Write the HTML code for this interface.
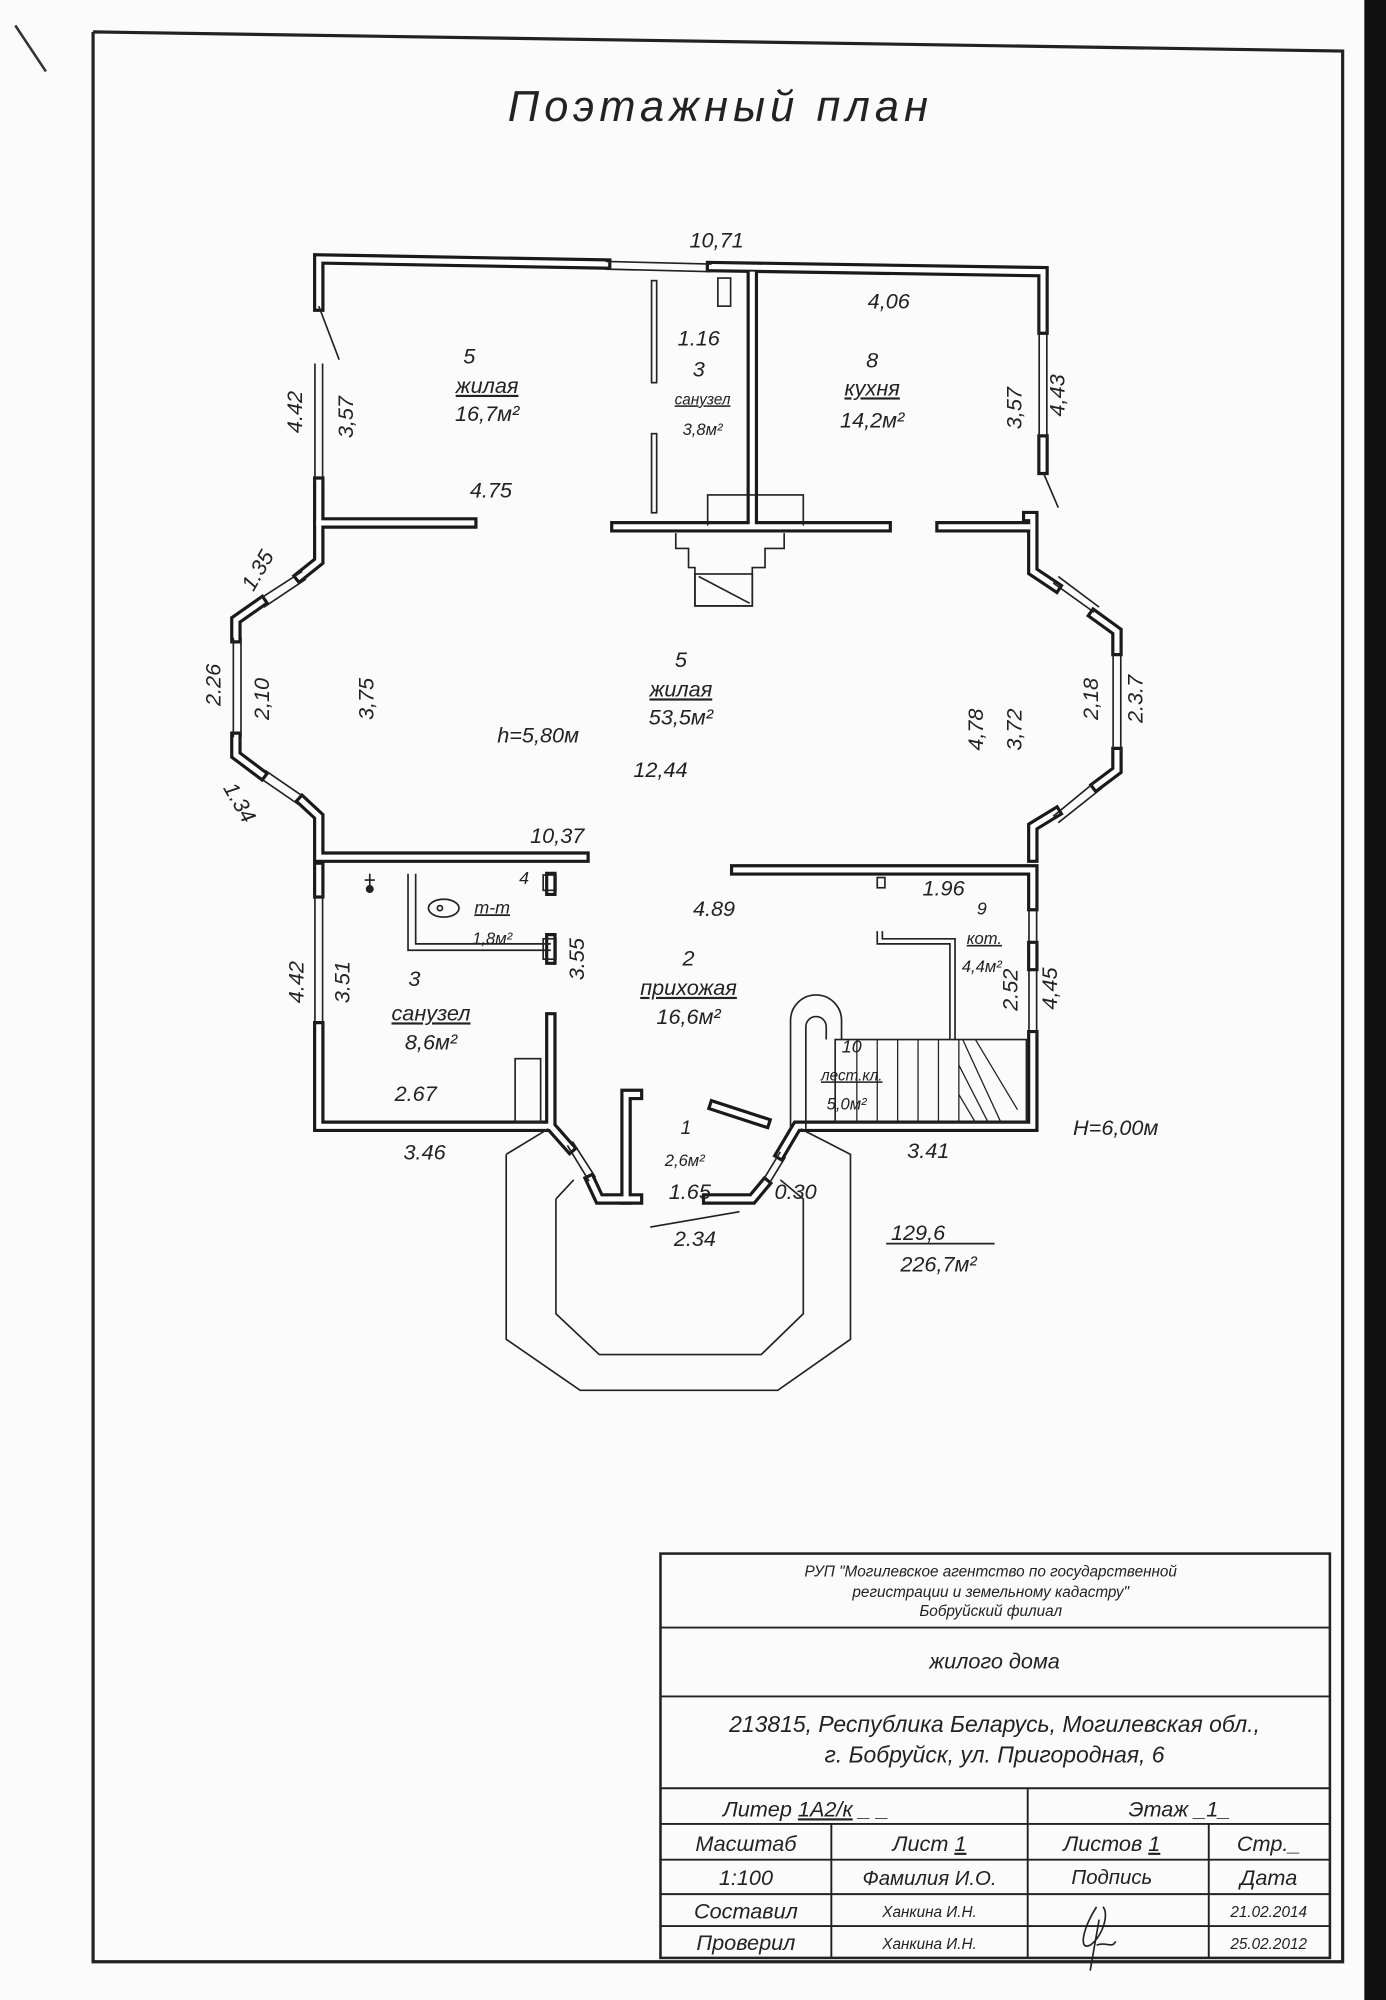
<!DOCTYPE html>
<html><head><meta charset="utf-8"><style>
html,body{margin:0;padding:0;background:#fff;}
svg{display:block;}
text{font-family:"Liberation Sans",sans-serif;font-style:italic;fill:#222;}
</style></head><body>
<svg width="1386" height="2000" viewBox="0 0 1087 1568" preserveAspectRatio="none" xmlns="http://www.w3.org/2000/svg">
<rect x="0" y="0" width="1087" height="1568" fill="#fbfbfb"/>
<rect x="1070" y="0" width="17" height="1568" fill="#111"/>
<line x1="12" y1="20" x2="36" y2="56" stroke="#333" stroke-width="2"/>
<polyline points="73,25 1053,40 1053,1538 73,1538 73,25" fill="none" stroke="#222" stroke-width="2.5"/>
<text x="565" y="95" font-size="34" text-anchor="middle" letter-spacing="4">Поэтажный  план</text>
<defs>
<g id="walls" fill="none">
<polyline points="250,240 250,203 475,207"/>
<polyline points="558,209 818,213 818,258"/>
<polyline points="250,378 250,410 370,410"/>
<polyline points="250,410 250,440 235,452"/>
<polyline points="205,472 185,486 185,500"/>
<polyline points="185,578 185,592 205,607"/>
<polyline points="237,628 250,640 250,672 458,672"/>
<polyline points="250,680 250,700"/>
<polyline points="250,805 250,883 432,883 447,900"/>
<polyline points="463,925 470,940 500,940"/>
<polyline points="555,940 590,940 600,928"/>
<polyline points="612,905 625,883 810,883 810,812"/>
<polyline points="810,757 810,742"/>
<polyline points="810,710 810,682 577,682"/>
<polyline points="810,672 810,648 828,637"/>
<polyline points="860,616 876,604 876,590"/>
<polyline points="876,510 876,495 858,482"/>
<polyline points="828,460 810,448 810,405 806,405"/>
<polyline points="818,368 818,345"/>
<line x1="483" y1="413" x2="695" y2="413"/>
<line x1="738" y1="413" x2="806" y2="413"/>
<line x1="590" y1="215" x2="590" y2="410"/>
<polyline points="432,688 432,698"/>
<polyline points="432,736 432,752"/>
<polyline points="432,798 432,880"/>
<polyline points="491,940 491,858 500,858"/>
<polyline points="560,867 600,880"/>
</g>
</defs>
<use href="#walls" stroke="#1a1a1a" stroke-width="9" stroke-linecap="square"/>
<use href="#walls" stroke="#fff" stroke-width="4" stroke-linecap="square"/>
<g stroke="#222" stroke-width="1.3" fill="none">
<path d="M475,205 L558,207 M475,211 L558,213"/>
<path d="M247,285 L247,378 M253,285 L253,378"/>
<path d="M183,500 L183,578 M189,500 L189,578"/>
<path d="M203,470 L237,448 M207,476 L240,454"/>
<path d="M204,610 L236,632 M208,604 L240,626"/>
<path d="M873,510 L873,590 M879,510 L879,590"/>
<path d="M826,457 L858,480 M830,452 L862,476"/>
<path d="M826,640 L860,612 M830,645 L864,618"/>
<path d="M815,258 L815,345 M821,258 L821,345"/>
<path d="M247,700 L247,805 M253,700 L253,805"/>
<path d="M807,712 L807,742 M813,712 L813,742"/>
<path d="M807,757 L807,812 M813,757 L813,812"/>
<path d="M445,898 L462,926 M449,895 L467,923"/>
<path d="M598,926 L612,903 M602,930 L616,907"/>
<line x1="250" y1="240" x2="266" y2="282"/>
<line x1="818" y1="370" x2="830" y2="398"/>
<rect x="511" y="220" width="4" height="80"/>
<rect x="511" y="340" width="4" height="62"/>
<rect x="563" y="218" width="10" height="22"/>
<path d="M555,412 V388 H590 M590,388 H630 V412"/>
<path d="M530,418 V430 H540 V445 H545 V475 H590 V445 H600 V430 H615 V418"/>
<rect x="545" y="450" width="45" height="25"/>
<line x1="548" y1="452" x2="588" y2="473"/>
<rect x="426" y="686" width="10" height="12"/>
<rect x="426" y="736" width="10" height="16"/>
<rect x="404" y="830" width="20" height="50"/>
<path d="M320,685 V745 H432 M326,685 V740 H432"/>
<ellipse cx="348" cy="712" rx="12" ry="7"/>
<circle cx="345" cy="712" r="2"/>
<path d="M290,685 V695 M286,690 H294"/><circle cx="290" cy="697" r="2.5" fill="#222"/>
<rect x="688" y="688" width="6" height="8"/>
<path d="M688,730 V740 H745 V815 M692,730 V736 H749 V815"/>
<path d="M620,885 V800 A20,20 0 0 1 660,800 V815 M632,885 V805 A8,8 0 0 1 648,805 V815"/>
<rect x="655" y="815" width="150" height="65"/>
<g stroke-width="1">
<line x1="672" y1="815" x2="672" y2="880"/><line x1="688" y1="815" x2="688" y2="880"/><line x1="704" y1="815" x2="704" y2="880"/><line x1="720" y1="815" x2="720" y2="880"/><line x1="736" y1="815" x2="736" y2="880"/><line x1="752" y1="815" x2="752" y2="880"/>
<line x1="755" y1="815" x2="785" y2="880"/><line x1="765" y1="815" x2="798" y2="870"/><line x1="752" y1="835" x2="775" y2="880"/><line x1="752" y1="858" x2="765" y2="880"/>
</g>
<path d="M397,905 L397,1050 L455,1090 L610,1090 L667,1050 L667,905 L628,885"/>
<path d="M397,905 L430,885"/>
<path d="M436,940 L436,1030 L470,1062 L597,1062 L630,1030 L630,940 L612,925"/>
<path d="M436,940 L450,925"/>
<line x1="510" y1="962" x2="580" y2="950"/>
<line x1="695" y1="975" x2="780" y2="975"/>
</g>
<g font-size="17" text-anchor="middle">
<text x="562" y="194">10,71</text>
<text x="697" y="242">4,06</text>
<text x="548" y="271">1.16</text>
<text x="548" y="295">3</text>
<text x="551" y="317" font-size="12" text-decoration="underline">санузел</text>
<text x="551" y="341" font-size="13">3,8м²</text>
<text x="368" y="285">5</text>
<text x="382" y="308" text-decoration="underline">жилая</text>
<text x="382" y="330">16,7м²</text>
<text x="684" y="288">8</text>
<text x="684" y="310" text-decoration="underline">кухня</text>
<text x="684" y="335">14,2м²</text>
<text transform="translate(237,323) rotate(-90)">4.42</text>
<text transform="translate(277,327) rotate(-90)">3,57</text>
<text transform="translate(801,320) rotate(-90)">3,57</text>
<text transform="translate(835,310) rotate(-90)">4,43</text>
<text x="385" y="390">4.75</text>
<text transform="translate(207,450) rotate(-60)">1.35</text>
<text transform="translate(173,537) rotate(-90)">2.26</text>
<text transform="translate(211,548) rotate(-90)">2,10</text>
<text transform="translate(293,548) rotate(-90)">3,75</text>
<text x="534" y="523">5</text>
<text x="534" y="546" text-decoration="underline">жилая</text>
<text x="534" y="568">53,5м²</text>
<text x="422" y="582">h=5,80м</text>
<text x="518" y="609">12,44</text>
<text transform="translate(771,572) rotate(-90)">4,78</text>
<text transform="translate(801,572) rotate(-90)">3,72</text>
<text transform="translate(861,548) rotate(-90)">2,18</text>
<text transform="translate(896,548) rotate(-90)">2.3.7</text>
<text transform="translate(183,632) rotate(60)">1.34</text>
<text x="437" y="661">10,37</text>
<text x="411" y="693" font-size="14">4</text>
<text x="386" y="716" font-size="14" text-decoration="underline">т-т</text>
<text x="386" y="740" font-size="13">1,8м²</text>
<text x="560" y="718">4.89</text>
<text x="740" y="702">1.96</text>
<text x="770" y="717" font-size="14">9</text>
<text x="772" y="740" font-size="13" text-decoration="underline">кот.</text>
<text x="770" y="762" font-size="13">4,4м²</text>
<text x="325" y="773">3</text>
<text transform="translate(274,770) rotate(-90)">3.51</text>
<text transform="translate(238,770) rotate(-90)">4.42</text>
<text transform="translate(458,752) rotate(-90)">3.55</text>
<text x="540" y="757">2</text>
<text x="540" y="780" text-decoration="underline">прихожая</text>
<text x="540" y="803">16,6м²</text>
<text transform="translate(798,776) rotate(-90)">2.52</text>
<text transform="translate(829,775) rotate(-90)">4,45</text>
<text x="338" y="800" text-decoration="underline">санузел</text>
<text x="338" y="823">8,6м²</text>
<text x="326" y="863">2.67</text>
<text x="668" y="825" font-size="14">10</text>
<text x="668" y="847" font-size="12" text-decoration="underline">лест.кл.</text>
<text x="664" y="870" font-size="13">5,0м²</text>
<text x="333" y="909">3.46</text>
<text x="538" y="889" font-size="15">1</text>
<text x="537" y="914" font-size="13">2,6м²</text>
<text x="541" y="940">1.65</text>
<text x="624" y="940">0.30</text>
<text x="728" y="908">3.41</text>
<text x="875" y="890">H=6,00м</text>
<text x="545" y="977">2.34</text>
<text x="720" y="972">129,6</text>
<text x="736" y="997">226,7м²</text>
</g>
<g stroke="#222" stroke-width="1.5" fill="none">
<rect x="518" y="1218" width="525" height="317" stroke-width="2"/>
<line x1="518" y1="1276" x2="1043" y2="1276"/>
<line x1="518" y1="1330" x2="1043" y2="1330"/>
<line x1="518" y1="1402" x2="1043" y2="1402"/>
<line x1="518" y1="1430" x2="1043" y2="1430"/>
<line x1="518" y1="1458" x2="1043" y2="1458"/>
<line x1="518" y1="1485" x2="1043" y2="1485"/>
<line x1="518" y1="1510" x2="1043" y2="1510"/>
<line x1="806" y1="1402" x2="806" y2="1535"/>
<line x1="652" y1="1430" x2="652" y2="1535"/>
<line x1="948" y1="1430" x2="948" y2="1535"/>
<path d="M860,1495 C850,1510 845,1530 855,1525 C865,1518 870,1500 865,1495 M862,1505 L855,1545 M860,1525 C868,1522 872,1528 875,1522" stroke-width="1.3"/>
</g>
<g text-anchor="middle">
<text x="777" y="1236" font-size="12">РУП "Могилевское агентство по государственной</text>
<text x="777" y="1252" font-size="12">регистрации и земельному кадастру"</text>
<text x="777" y="1267" font-size="12">Бобруйский филиал</text>
<text x="780" y="1308" font-size="17">жилого дома</text>
<text x="780" y="1358" font-size="18">213815, Республика  Беларусь, Могилевская  обл.,</text>
<text x="780" y="1382" font-size="18">г. Бобруйск,  ул. Пригородная, 6</text>
<text x="632" y="1424" font-size="17">Литер <tspan text-decoration="underline">1А2/к</tspan> _ _</text>
<text x="925" y="1424" font-size="17">Этаж _1_</text>
<text x="585" y="1451" font-size="17">Масштаб</text>
<text x="729" y="1451" font-size="17">Лист <tspan text-decoration="underline">1</tspan></text>
<text x="872" y="1451" font-size="17">Листов <tspan text-decoration="underline">1</tspan></text>
<text x="995" y="1451" font-size="17">Стр._</text>
<text x="585" y="1478" font-size="17">1:100</text>
<text x="729" y="1478" font-size="16">Фамилия И.О.</text>
<text x="872" y="1477" font-size="16">Подпись</text>
<text x="995" y="1478" font-size="17">Дата</text>
<text x="585" y="1504" font-size="17">Составил</text>
<text x="729" y="1503" font-size="12">Ханкина И.Н.</text>
<text x="995" y="1503" font-size="12">21.02.2014</text>
<text x="585" y="1529" font-size="17">Проверил</text>
<text x="729" y="1528" font-size="12">Ханкина И.Н.</text>
<text x="995" y="1528" font-size="12">25.02.2012</text>
</g>
</svg>
</body></html>
